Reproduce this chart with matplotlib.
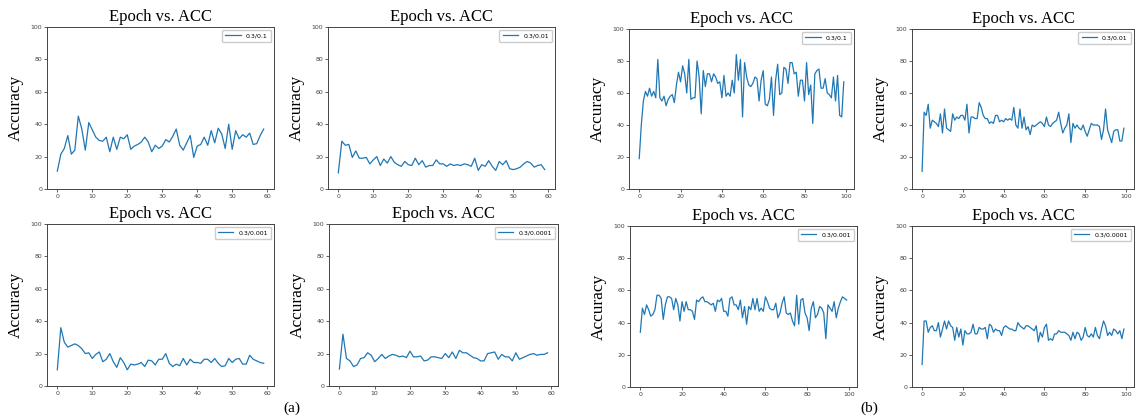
import numpy as np
import matplotlib.pyplot as plt

# accuracy per epoch, 60-epoch runs (a)
acc_a_01 = [11, 21.5, 25, 33, 21.5, 24, 45, 37, 24, 41, 36.5, 32, 30, 29.5, 32, 23, 32, 24.5, 32, 31,
            33.5, 24.5, 26.5, 27.5, 29, 32, 29, 23, 27, 25, 26.5, 30.5, 29, 32.5, 37, 27, 24, 28.5, 33, 19.5,
            26.5, 27.5, 32, 27, 36, 28.5, 37.5, 34, 25, 40, 24.5, 36, 31, 33.5, 32, 34.5, 27.5, 28, 33, 37]
acc_a_001 = [10, 29.5, 27, 27.5, 19.5, 23.5, 19, 19, 19.5, 15.5, 18, 20, 14.5, 18.5, 16, 20, 16.5, 15, 14, 17,
             15, 14.5, 19, 15, 17.5, 13.5, 14.5, 14.5, 18, 15.5, 15.5, 14, 15.5, 14.5, 15, 14.5, 15.5, 15, 14, 19,
             11.5, 15, 14, 17.5, 14, 11.5, 17, 15, 17.5, 12.5, 12, 12.5, 13.5, 15.5, 17, 16, 13.5, 14.5, 15, 12]
acc_a_0001 = [10, 36, 27, 24, 25, 26, 25, 23, 20, 20.5, 17, 19.5, 21, 15, 16.5, 20, 15, 11.5, 17.5, 14.5,
              10, 13.5, 13, 13.5, 14.5, 12, 16, 15.5, 13, 16.5, 16.5, 20, 14, 12, 13.5, 12.5, 17, 13, 16.5, 14.5,
              14.5, 14, 16.5, 16.5, 14.5, 17, 14, 12, 12.5, 17, 14.5, 16.5, 17, 13.5, 13.5, 19, 16.5, 15.5, 14.5, 14]
acc_a_00001 = [10.5, 32, 17, 15.5, 12, 13, 17, 17.5, 20.5, 19, 15, 17, 19.5, 17, 18.5, 19.5, 19, 18, 18.5, 17.5,
               21.5, 18, 18, 18.5, 15.5, 16, 18, 18, 17.5, 17, 20, 17.5, 21, 17, 22, 20.5, 20.5, 19, 17.5, 17,
               15.5, 15.5, 20, 20.5, 21, 16.5, 19.5, 18, 18, 15.5, 20.5, 16.5, 17.5, 18.5, 19.5, 20, 19, 19.5, 19.5, 20.5]

# accuracy per epoch, 100-epoch runs (b)
acc_b_01 = [19, 40, 55, 61, 58, 63, 58, 61, 57, 81, 57, 55, 58, 52, 56, 58, 59, 54, 65, 73,
            67, 77, 72, 60, 81, 56, 57, 57, 80, 70, 47, 74, 64, 72, 72, 67, 72, 70, 66, 67,
            57, 71, 58, 60, 58, 68, 60, 84, 68, 81, 45, 79, 70, 65, 64, 66, 70, 69, 55, 68,
            74, 53, 52, 56, 70, 46, 68, 78, 59, 60, 76, 75, 66, 79, 79, 72, 73, 58, 68, 68,
            55, 79, 59, 65, 41, 72, 74, 75, 63, 63, 69, 60, 59, 57, 70, 55, 71, 46, 45, 67]
acc_b_001 = [11, 48, 46, 53, 38, 43, 42, 41, 39, 47, 35, 50, 38, 37, 36, 47, 43, 45, 44, 46,
             46, 43, 53, 35, 45, 45, 44, 44, 54, 51, 46, 44, 44, 41, 42, 41, 46, 46, 42, 43,
             42, 44, 43, 44, 43, 51, 40, 38, 50, 38, 45, 37, 39, 34, 40, 39, 40, 41, 42, 41,
             39, 45, 40, 39, 41, 42, 43, 48, 41, 35, 38, 40, 47, 29, 41, 38, 40, 38, 37, 40,
             36, 33, 37, 41, 40, 40, 40, 39, 31, 37, 50, 37, 33, 29, 36, 37, 37, 30, 30, 38]
acc_b_0001 = [34, 49, 45, 51, 48, 44, 45, 48, 57, 57, 55, 42, 51, 56, 56, 55, 48, 55, 51, 41,
              53, 47, 53, 48, 48, 47, 42, 54, 53, 55, 56, 53, 53, 52, 51, 52, 47, 54, 53, 55,
              47, 47, 44, 55, 56, 51, 51, 48, 54, 43, 50, 39, 50, 48, 55, 48, 55, 47, 49, 47,
              56, 53, 49, 48, 48, 52, 43, 46, 52, 56, 46, 45, 46, 41, 38, 57, 39, 54, 55, 46,
              43, 35, 49, 53, 43, 45, 50, 49, 46, 30, 51, 49, 47, 53, 43, 49, 53, 56, 55, 54]
acc_b_00001 = [14, 41, 41, 34, 37, 38, 35, 35, 40, 31, 36, 41, 36, 41, 38, 37, 29, 37, 31, 36,
               26, 35, 33, 33, 34, 39, 33, 33, 37, 36, 36, 37, 30, 39, 38, 34, 36, 35, 35, 32,
               37, 38, 37, 36, 36, 35, 35, 40, 38, 37, 36, 38, 38, 37, 36, 35, 38, 28, 34, 31,
               37, 39, 29, 30, 29, 33, 33, 35, 34, 34, 34, 33, 32, 29, 34, 30, 34, 33, 29, 31,
               37, 32, 31, 33, 31, 37, 32, 30, 36, 41, 38, 32, 34, 32, 36, 35, 33, 35, 30, 36]

labels = ['0.3/0.1', '0.3/0.01', '0.3/0.001', '0.3/0.0001']
series_a = [acc_a_01, acc_a_001, acc_a_0001, acc_a_00001]
series_b = [acc_b_01, acc_b_001, acc_b_0001, acc_b_00001]

W, H = 1136, 418
fig = plt.figure(figsize=(W / 100, H / 100), dpi=100)

# axes boxes in pixels: left, right, top, bottom
boxes_a = [(47, 274, 27, 189), (328, 555, 27, 189), (47, 274, 224, 386), (329, 558, 224, 386)]
boxes_b = [(629, 854, 29, 189), (912, 1134, 29, 189), (630, 857, 226, 387), (912, 1134, 226, 387)]

serif = 'Liberation Serif'


def draw(box, vals, lab, xt):
    l, r, t, b = box
    ax = fig.add_axes([l / W, 1 - b / H, (r - l) / W, (b - t) / H])
    ax.plot(np.arange(len(vals)), vals, color='#1f77b4', lw=0.9, label=lab)
    ax.set_ylim(0, 100)
    ax.set_yticks(range(0, 101, 20))
    ax.set_xticks(xt)
    ax.tick_params(labelsize=4.5, length=2, width=0.6, pad=1.5, colors='#444444')
    for s in ax.spines.values():
        s.set_linewidth(0.7)
        s.set_color('#444444')
    ax.set_title('Epoch vs. ACC', fontsize=12, family=serif, pad=4)
    ax.set_ylabel('Accuracy', fontsize=12.5, family=serif, labelpad=5)
    ax.legend(loc='upper right', fontsize=4.5, handlelength=2.5, borderpad=0.5, framealpha=1)


for box, vals, lab in zip(boxes_a, series_a, labels):
    draw(box, vals, lab, range(0, 61, 10))
for box, vals, lab in zip(boxes_b, series_b, labels):
    draw(box, vals, lab, range(0, 101, 20))

fig.text(292 / W, 1 - 408 / H, '(a)', fontsize=11, family=serif, ha='center', va='center')
fig.text(869 / W, 1 - 408 / H, '(b)', fontsize=11, family=serif, ha='center', va='center')

fig.savefig('out.png', dpi=100)
